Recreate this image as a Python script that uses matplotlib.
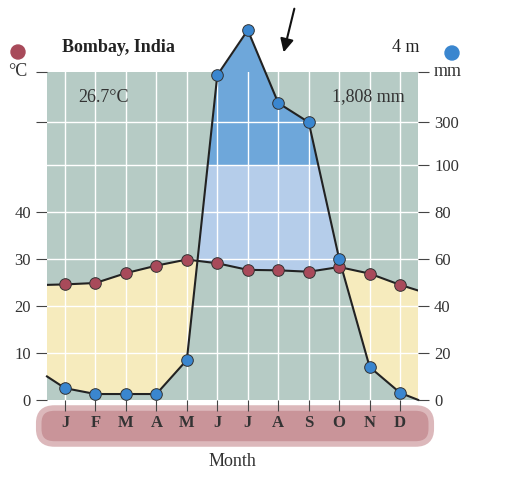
import numpy as np
import matplotlib
matplotlib.use("Agg")
import matplotlib.pyplot as plt
from matplotlib.patches import FancyBboxPatch

months = ["J","F","M","A","M","J","J","A","S","O","N","D"]
temp_c = [24.6, 24.9, 27.0, 28.6, 29.9, 29.1, 27.7, 27.6, 27.3, 28.3, 26.9, 24.5]
precip_mm = [5, 2.5, 2.5, 2.5, 17, 520, 730, 390, 300, 60, 14, 3]
temp_edge = [24.5, 23.3]
precip_edge = [10, 0]

def mm_to_c(p):
    p = np.asarray(p, float)
    return np.where(p <= 100, p / 2.0, 50 + (p - 100) / 21.9)

x = np.arange(1, 13)
xl, xr = 0.41, 12.59
xe = np.concatenate([[xl], x, [xr]])
te = np.concatenate([[temp_edge[0]], temp_c, [temp_edge[1]]])
pe = mm_to_c(np.concatenate([[precip_edge[0]], precip_mm, [precip_edge[1]]]))

plt.rcParams['font.family'] = ['Liberation Serif', 'DejaVu Serif']
fig = plt.figure(figsize=(5.22, 4.98), dpi=100)

band = FancyBboxPatch((45/522, 1-438/498), 380/522, 24/498, boxstyle="round,pad=0.012,rounding_size=0.03",
                      transform=fig.transFigure, facecolor='#c99499', edgecolor='#dcb8bb', lw=4, zorder=-5)
fig.patches.append(band)

ax = fig.add_axes([0.090, 0.197, 0.711, 0.658])
ax.set_zorder(1)
ax.set_facecolor('#b6cbc5')
ax.set_xlim(xl, xr)
ax.set_ylim(0, 69.8)

xf = np.linspace(xl, xr, 3000)
tf = np.interp(xf, xe, te)
pf = np.interp(xf, xe, pe)
ax.fill_between(xf, pf, tf, where=tf > pf, color='#f6ebbd', lw=0, zorder=1)
ax.fill_between(xf, tf, np.minimum(pf, 50), where=pf > tf, color='#b5cdea', lw=0, zorder=1)
ax.fill_between(xf, 50, pf, where=pf > 50, color='#6ea7da', lw=0, zorder=1, clip_on=False)

for gx in x:
    ax.axvline(gx, color='white', lw=1, zorder=2)
for gy in [10, 20, 30, 40, 50, 59.1]:
    ax.axhline(gy, color='white', lw=1, zorder=2)

ax.plot(xe, te, color='#222222', lw=1.5, zorder=3)
ax.plot(xe, pe, color='#222222', lw=1.5, zorder=3, clip_on=False)
ax.scatter(x, temp_c, s=70, color='#a84a5a', edgecolor='#333333', lw=0.7, zorder=4)
ax.scatter(x, mm_to_c(precip_mm), s=70, color='#3a86cf', edgecolor='#333333', lw=0.7, zorder=4, clip_on=False)

for s in ax.spines.values():
    s.set_visible(False)
ax.set_xticks(x)
ax.set_xticklabels(months, fontsize=12, fontweight='bold', color='#333333')
ax.tick_params(axis='x', length=8, color='#444444', pad=3)
ax.set_yticks([0, 10, 20, 30, 40, 59.1, 69.8])
ax.set_yticklabels(['0', '10', '20', '30', '40', '', ''], fontsize=12, color='#333333')
ax.tick_params(axis='y', length=8, color='#444444')
ax2 = ax.twinx()
ax2.set_ylim(0, 69.8)
for s in ax2.spines.values():
    s.set_visible(False)
ax2.set_yticks([0, 10, 20, 30, 40, 50, 59.1, 69.8])
ax2.set_yticklabels(['0', '20', '40', '60', '80', '100', '300', ''], fontsize=12, color='#333333')
ax2.tick_params(axis='y', length=8, color='#444444')

fig.text(0.445, 1-466/498, 'Month', ha='center', fontsize=13, color='#333333')

fig.text(62/522, 1-48/498, 'Bombay, India', fontsize=13, fontweight='bold', va='center', color='#222222')
fig.text(419/522, 1-48/498, '4 m', fontsize=13, ha='right', va='center', color='#222222')
fig.text(18/522, 1-72/498, '°C', fontsize=13, ha='center', va='center', color='#333333')
fig.text(448/522, 1-72/498, 'mm', fontsize=13, ha='center', va='center', color='#333333')
fig.text(78/522, 1-97/498, '26.7°C', fontsize=13, va='center', color='#333333')
fig.text(405/522, 1-97/498, '1,808 mm', fontsize=13, ha='right', va='center', color='#333333')
fig.patches.append(matplotlib.patches.Ellipse((18/522, 1-52/498), 14/522, 14/498, transform=fig.transFigure, color='#a84a5a'))
fig.patches.append(matplotlib.patches.Ellipse((452/522, 1-53/498), 14/522, 14/498, transform=fig.transFigure, color='#3a86cf'))
fig.add_artist(matplotlib.patches.FancyArrowPatch((295/522, 1-6/498), (283/522, 1-55/498),
               transform=fig.transFigure, arrowstyle='-|>,head_length=8,head_width=4', color='#111111', lw=1.5))

fig.savefig('out.png', dpi=100)
